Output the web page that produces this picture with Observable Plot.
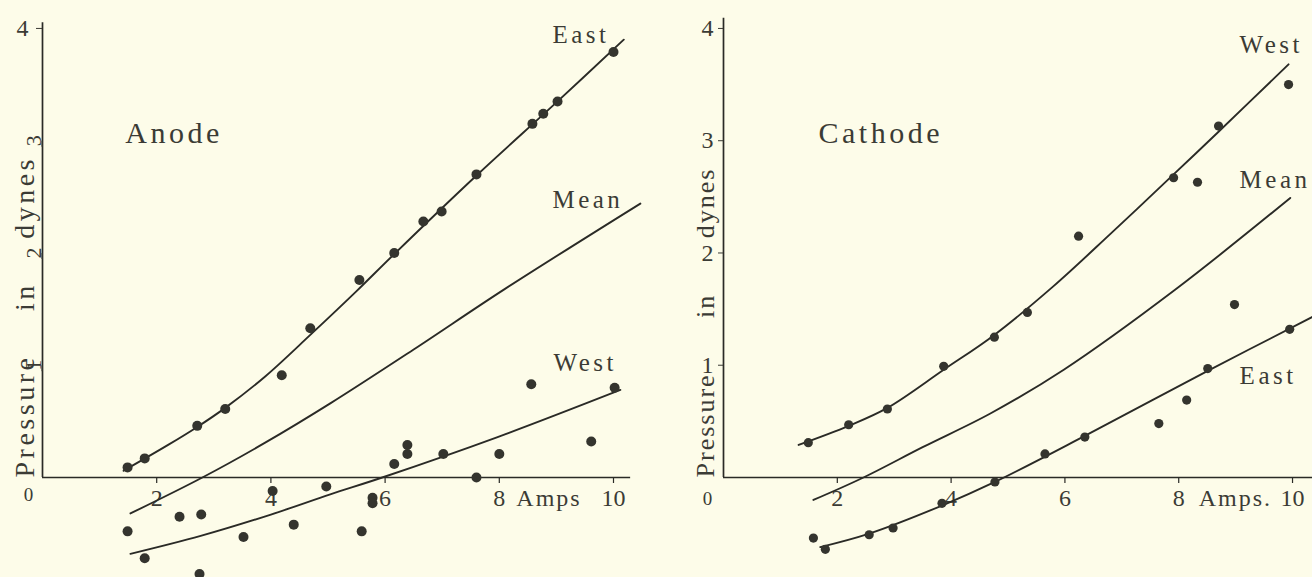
<!DOCTYPE html>
<html>
<head>
<meta charset="utf-8">
<script src="https://cdn.jsdelivr.net/npm/d3@7"></script>
<script src="https://cdn.jsdelivr.net/npm/@observablehq/plot@0.6"></script>
<style>
  html, body { margin: 0; padding: 0; background: #fdfce9; }
  #wrap { display: flex; width: 1312px; height: 577px; overflow: hidden; }
  #wrap svg { display: block; flex: none; }
</style>
</head>
<body>
<div id="wrap"></div>
<script>
// ---------- shared axis data ----------
const xTicks = [2, 4, 6, 8, 10];
const yTicks = [1, 2, 3, 4];
const zeroLabel = ["0"];
const yTitle = "Pressure in dynes";

// ---------- Anode panel data (x = Amps, y = pressure in dynes) ----------
const anodeEastPoints = [
  [1.49, 0.09], [1.79, 0.17], [2.71, 0.46], [3.20, 0.61], [4.19, 0.91],
  [4.69, 1.33], [5.55, 1.76], [6.16, 2.00], [6.67, 2.28], [6.99, 2.37],
  [7.60, 2.70], [8.58, 3.15], [8.77, 3.24], [9.02, 3.35], [10.00, 3.79]
];
const anodeWestPoints = [
  [1.49, -0.48], [1.79, -0.72], [2.40, -0.35], [2.78, -0.33], [2.75, -0.86],
  [3.52, -0.53], [4.03, -0.12], [4.40, -0.42], [4.97, -0.08], [5.59, -0.48],
  [5.78, -0.18], [5.78, -0.23], [6.16, 0.12], [6.39, 0.21], [6.39, 0.29],
  [7.02, 0.21], [7.60, 0.00], [8.00, 0.21], [8.56, 0.83], [9.61, 0.32],
  [10.02, 0.80]
];
const anodeEastCurve = [[1.42, 0.06], [2.20, 0.29], [2.71, 0.45], [3.20, 0.62], [3.90, 0.90], [4.69, 1.27], [5.50, 1.66], [6.16, 1.99], [7.60, 2.69], [9.02, 3.35], [10.18, 3.90]];
const anodeMeanCurve = [[1.54, -0.32], [2.80, 0.00], [3.90, 0.31], [5.04, 0.66], [6.50, 1.14], [8.10, 1.68], [10.47, 2.44]];
const anodeWestCurve = [[1.54, -0.68], [2.77, -0.52], [4.00, -0.33], [5.04, -0.15], [5.95, 0.00], [7.97, 0.36], [10.12, 0.78]];
const anodeTitle = [{text: "Anode", x: 1.45, y: 2.98}];
const anodeSeriesLabels = [
  {text: "East", x: 8.93, y: 3.87},
  {text: "Mean", x: 8.93, y: 2.40},
  {text: "West", x: 8.95, y: 0.95}
];
const anodeUnit = [{text: "Amps", x: 8}];
const anodeAxisEnds = [{x: 10.3, y: 4.05}];

// ---------- Cathode panel data ----------
const cathodeWestPoints = [
  [1.49, 0.31], [2.20, 0.47], [2.88, 0.61], [3.87, 0.99], [4.76, 1.25],
  [5.34, 1.47], [6.24, 2.15], [7.91, 2.67], [8.33, 2.63], [8.70, 3.13],
  [9.93, 3.50]
];
const cathodeEastPoints = [
  [1.58, -0.54], [1.79, -0.64], [2.56, -0.51], [2.98, -0.45], [3.84, -0.23],
  [4.77, -0.04], [5.65, 0.21], [6.35, 0.36], [7.65, 0.48], [8.14, 0.69],
  [8.51, 0.97], [8.98, 1.54], [9.95, 1.32]
];
const cathodeWestCurve = [[1.32, 0.29], [2.20, 0.46], [2.88, 0.62], [3.87, 0.96], [4.76, 1.27], [5.79, 1.70], [6.80, 2.17], [7.91, 2.70], [8.70, 3.08], [9.93, 3.68]];
const cathodeMeanCurve = [[1.58, -0.20], [2.46, 0.00], [3.50, 0.27], [4.69, 0.57], [5.98, 0.96], [7.93, 1.67], [9.96, 2.49]];
const cathodeEastCurve = [[1.70, -0.62], [2.56, -0.50], [3.84, -0.25], [4.77, -0.04], [6.35, 0.37], [8.51, 0.95], [10.35, 1.43]];
const cathodeTitle = [{text: "Cathode", x: 1.67, y: 2.98}];
const cathodeSeriesLabels = [
  {text: "West", x: 9.07, y: 3.78},
  {text: "Mean", x: 9.07, y: 2.58},
  {text: "East", x: 9.07, y: 0.83}
];
const cathodeUnit = [{text: "Amps.", x: 8}];
const cathodeAxisEnds = [{x: 10.36, y: 4.09}];

// ---------- drawing ----------
const ink = "#3b3b35";
const lineInk = "#2a2a26";
const dotInk = "#34342e";
const font = "'Liberation Serif', 'DejaVu Serif', serif";
const intFormat = d => `${d}`;

function rows(series, pts) { return pts.map(([x, y]) => ({series, x, y})); }

function panel(p) {
  const curves = [
    ...rows("a", p.curves[0]), ...rows("b", p.curves[1]), ...rows("c", p.curves[2])
  ];
  const points = [...p.points[0], ...p.points[1]];
  const marks = [
    // axes lines
    Plot.ruleX(p.axisEnds, {x: 0, y1: 0, y2: "y", stroke: lineInk, strokeWidth: 1.7}),
    Plot.ruleY(p.axisEnds, {y: 0, x1: 0, x2: "x", stroke: lineInk, strokeWidth: 1.4}),
    // x ticks (downward from the zero line)
    Plot.ruleX(xTicks, {x: d => d, y1: 0, y2: 0, insetBottom: -6, stroke: lineInk, strokeWidth: 1.2}),
    Plot.text(xTicks, {x: d => d, y: 0, dy: 21, text: intFormat, fontSize: 24, fill: ink}),
    Plot.text(p.unit, {x: "x", y: 0, dx: p.unitDx, dy: 21, text: "text", textAnchor: "start", fontSize: 24, fill: ink}),
    Plot.text(zeroLabel, {x: 0, y: 0, dx: p.zeroDx, dy: p.zeroDy, text: d => d, fontSize: 19, fill: ink}),
    // curves and points
    Plot.line(curves, {x: "x", y: "y", z: "series", curve: "catmull-rom", stroke: lineInk, strokeWidth: 1.9, clip: true}),
    Plot.dot(points, {x: d => d[0], y: d => d[1], r: p.r, fill: dotInk, stroke: "none"}),
    // labels
    Plot.text(p.title, {x: "x", y: "y", text: "text", textAnchor: "start", lineAnchor: "bottom", fontSize: 30, fill: ink}),
    Plot.text(p.labels, {x: "x", y: "y", text: "text", textAnchor: "start", lineAnchor: "bottom", fontSize: 25, fill: ink}),
    Plot.text([yTitle], {x: 0, y: 0, dx: p.titleDx, dy: 0, text: d => d, rotate: -90, textAnchor: "start", lineAnchor: "bottom", fontSize: p.titleSize, fill: ink})
  ];
  if (p.rotatedTicks) {
    marks.push(Plot.axisY([4], {anchor: "left", tickSize: 6, tickPadding: 8, fontSize: 24, label: null, color: ink, tickFormat: intFormat}));
    marks.push(Plot.axisY([1, 2, 3], {anchor: "left", tickSize: 6, tickPadding: 3, fontSize: 22, rotate: -90, textAnchor: "middle", label: null, color: ink, tickFormat: intFormat}));
  } else {
    marks.push(Plot.axisY(yTicks, {anchor: "left", tickSize: 5, tickPadding: 5, fontSize: 24, label: null, color: ink, tickFormat: intFormat}));
  }
  const svg = Plot.plot({
    width: p.width, height: 577,
    marginTop: 11, marginBottom: 1, marginLeft: p.marginLeft, marginRight: p.marginRight,
    x: {domain: [0, p.xMax], axis: null, label: null},
    y: {domain: [-0.882, 4.151], axis: null, label: null},
    style: {background: "transparent", color: ink, fontFamily: font, overflow: "visible"},
    marks
  });
  const sel = d3.select(svg);
  sel.selectAll("text").each(function () {
    const t = this.textContent;
    const s = d3.select(this);
    if (t === yTitle) { s.style("letter-spacing", p.titleSpacing).style("word-spacing", p.titleWordSpacing); }
    else if (t === "Anode" || t === "Cathode") { s.style("letter-spacing", "3.5px"); }
    else if (["East", "Mean", "West"].includes(t)) { s.style("letter-spacing", "3.5px"); }
    else if (t.startsWith("Amps")) { s.style("letter-spacing", "2px"); }
  });
  return svg;
}

const wrap = document.getElementById("wrap");
wrap.appendChild(panel({
  width: 656, marginLeft: 42, marginRight: 6, xMax: 10.648,
  points: [anodeEastPoints, anodeWestPoints],
  curves: [anodeEastCurve, anodeMeanCurve, anodeWestCurve],
  title: anodeTitle, labels: anodeSeriesLabels, unit: anodeUnit, unitDx: 17,
  axisEnds: anodeAxisEnds, rotatedTicks: true, r: 5,
  zeroDx: -14, zeroDy: 17, titleDx: -9,
  titleSize: 28, titleSpacing: "3.5px", titleWordSpacing: "33px"
}));
wrap.appendChild(panel({
  width: 656, marginLeft: 67, marginRight: 0, xMax: 10.351,
  points: [cathodeWestPoints, cathodeEastPoints],
  curves: [cathodeWestCurve, cathodeMeanCurve, cathodeEastCurve],
  title: cathodeTitle, labels: cathodeSeriesLabels, unit: cathodeUnit, unitDx: 20,
  axisEnds: cathodeAxisEnds, rotatedTicks: false, r: 4.6,
  zeroDx: -16, zeroDy: 21, titleDx: -10,
  titleSize: 26, titleSpacing: "2px", titleWordSpacing: "47px"
}));
</script>
</body>
</html>
